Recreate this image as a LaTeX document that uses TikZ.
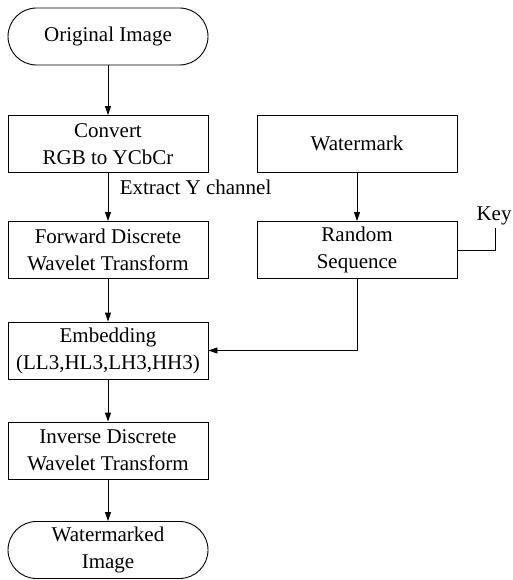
\documentclass[tikz,border=0pt]{standalone}
\usepackage{fontspec}
\setmainfont{Liberation Serif}
\usetikzlibrary{arrows.meta}
\begin{document}
\begin{tikzpicture}[x=1pt,y=-1pt,
  font=\fontsize{21}{27}\selectfont,
  procbox/.style={draw,line width=0.9pt,minimum width=200pt,minimum height=57pt,align=center,inner sep=2pt},
  termbox/.style={procbox,rounded corners=28.5pt},
  flow/.style={line width=0.9pt,-{Triangle[length=9pt,width=6pt]}},
  plain/.style={line width=0.9pt}]
\useasboundingbox (0,0) rectangle (512,580);

% main chain
\node[termbox] (orig) at (108,36.5) {Original Image};
\node[procbox] (conv) at (108,144) {Convert\\RGB to YCbCr};
\node[procbox] (fdwt) at (108,250) {Forward Discrete\\Wavelet Transform};
\node[procbox] (emb)  at (108,350.5) {Embedding\\(LL3,HL3,LH3,HH3)};
\node[procbox] (idwt) at (108,450.5) {Inverse Discrete\\Wavelet Transform};
\node[termbox] (wmi)  at (108,550) {Watermarked\\Image};

% watermark branch
\node[procbox] (wm) at (357,143.5) {Watermark};
\node[procbox] (rs) at (357,250) {Random\\Sequence};

\coordinate (keyend) at (495,228);
\node[anchor=south,inner sep=1pt] (keylbl) at (494,226) {Key};
\coordinate (bend) at (357,350.5);

\draw[flow] (orig) -- (conv);
\draw[flow] (conv) -- node[anchor=west,xshift=8pt,pos=0.3] (ylbl) {Extract Y channel} (fdwt);
\draw[flow] (fdwt) -- (emb);
\draw[flow] (emb) -- (idwt);
\draw[flow] (idwt) -- (wmi);
\draw[flow] (wm) -- (rs);
\draw[plain] (rs.east) -| (keyend);
\draw[flow] (rs.south) -- (bend) -- (emb.east);
\end{tikzpicture}
\end{document}
